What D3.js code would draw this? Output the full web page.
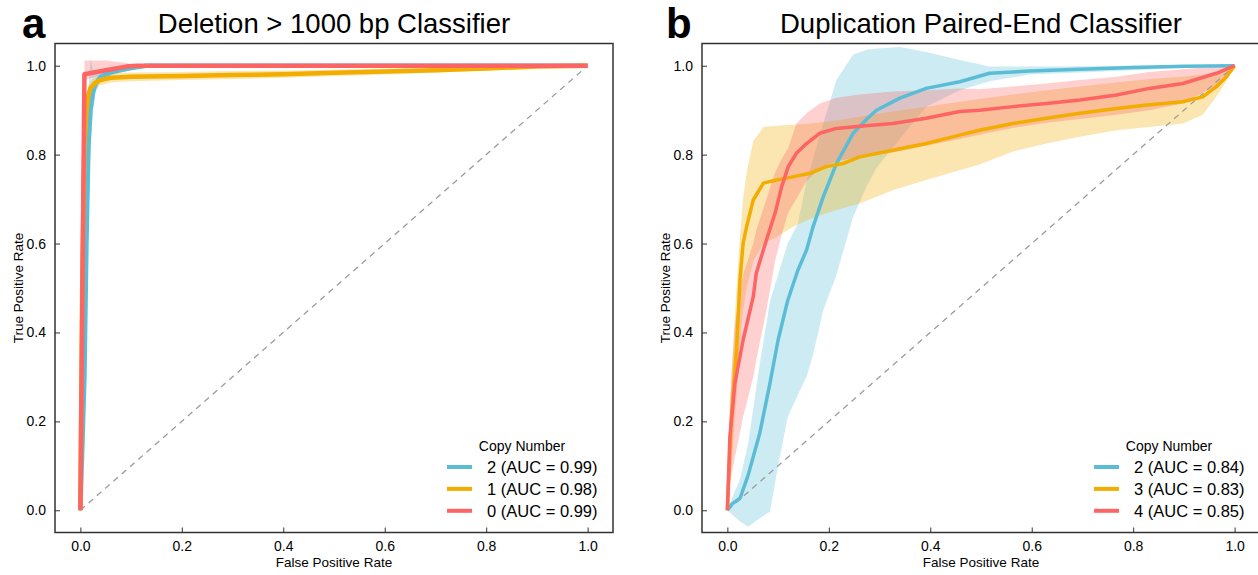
<!DOCTYPE html>
<html>
<head>
<meta charset="utf-8">
<script src="https://cdn.jsdelivr.net/npm/d3@7"></script>
<style>
body { margin: 0; background: #fff; }
text { font-family: "Liberation Sans", Arial, sans-serif; fill: #000; }
</style>
</head>
<body>
<svg id="svgroc" width="1258" height="575"></svg>
<script>
// ---- data: Deletion > 1000 bp (copy number 2, 1, 0)
var del2_fpr = [0, 0.008, 0.012, 0.016, 0.02, 0.025, 0.03, 0.04, 0.06, 0.08, 0.1, 0.13, 1];
var del2_tpr = [0, 0.3, 0.6, 0.82, 0.9, 0.94, 0.96, 0.975, 0.985, 0.99, 0.995, 1, 1];
var del2_lo  = [0, 0.15, 0.4, 0.7, 0.82, 0.9, 0.94, 0.965, 0.978, 0.985, 0.99, 1, 1];
var del2_hi  = [0, 0.45, 0.8, 0.95, 1.017, 0.99, 0.98, 0.985, 0.99, 0.995, 1, 1, 1];

var del1_fpr = [0, 0.004, 0.008, 0.012, 0.016, 0.02, 0.03, 0.04, 0.06, 0.1, 0.2, 0.3, 0.4, 0.5, 0.6, 0.7, 0.8, 0.9, 1];
var del1_tpr = [0, 0.55, 0.82, 0.9, 0.935, 0.95, 0.962, 0.968, 0.973, 0.975, 0.977, 0.979, 0.981, 0.984, 0.987, 0.99, 0.994, 0.998, 1];
var del1_lo  = [0, 0.45, 0.75, 0.86, 0.91, 0.93, 0.948, 0.956, 0.962, 0.965, 0.968, 0.97, 0.973, 0.977, 0.98, 0.985, 0.99, 0.995, 1];
var del1_hi  = [0, 0.65, 0.88, 0.93, 0.955, 0.965, 0.975, 0.98, 0.984, 0.985, 0.986, 0.988, 0.989, 0.991, 0.993, 0.995, 0.997, 0.999, 1];

var del0_fpr = [0, 0.008, 0.05, 0.09, 0.11, 1];
var del0_tpr = [0, 0.981, 0.99, 0.998, 1, 1];
var del0_lo  = [0, 0.968, 0.982, 0.994, 1, 1];
var del0_hi  = [0, 1.012, 1.012, 1.006, 1, 1];

// ---- data: Duplication paired-end (copy number 2, 3, 4)
var dup2_fpr = [0, 0.01, 0.025, 0.041, 0.064, 0.084, 0.1, 0.119, 0.139, 0.156, 0.169, 0.189, 0.215, 0.248, 0.275, 0.294, 0.34, 0.392, 0.458, 0.517, 0.596, 0.695, 0.8, 0.9, 1];
var dup2_tpr = [0, 0.015, 0.027, 0.079, 0.174, 0.286, 0.383, 0.472, 0.54, 0.585, 0.638, 0.705, 0.78, 0.848, 0.88, 0.9, 0.927, 0.949, 0.964, 0.983, 0.988, 0.992, 0.996, 0.999, 1];
var dup2_lo  = [0, -0.01, -0.025, -0.037, -0.018, -0.003, 0.1, 0.21, 0.26, 0.3, 0.35, 0.45, 0.53, 0.66, 0.73, 0.77, 0.835, 0.908, 0.945, 0.965, 0.98, 0.985, 0.99, 0.995, 1];
var dup2_hi  = [0, 0.03, 0.07, 0.15, 0.33, 0.47, 0.53, 0.6, 0.645, 0.74, 0.79, 0.87, 0.968, 1.025, 1.036, 1.039, 1.042, 1.031, 1.013, 0.998, 0.998, 0.999, 1, 1, 1];

var dup3_fpr = [0, 0.008, 0.018, 0.025, 0.031, 0.038, 0.051, 0.071, 0.097, 0.129, 0.163, 0.195, 0.228, 0.261, 0.326, 0.392, 0.458, 0.497, 0.563, 0.629, 0.695, 0.767, 0.832, 0.898, 0.937, 0.964, 0.984, 1];
var dup3_tpr = [0, 0.21, 0.36, 0.52, 0.6, 0.638, 0.698, 0.736, 0.743, 0.75, 0.758, 0.773, 0.78, 0.795, 0.81, 0.825, 0.844, 0.855, 0.87, 0.882, 0.893, 0.904, 0.912, 0.919, 0.93, 0.953, 0.975, 1];
var dup3_lo  = [0, 0.1, 0.25, 0.38, 0.45, 0.5, 0.56, 0.6, 0.615, 0.638, 0.655, 0.668, 0.68, 0.69, 0.72, 0.743, 0.765, 0.778, 0.807, 0.825, 0.84, 0.855, 0.862, 0.87, 0.89, 0.93, 0.965, 1];
var dup3_hi  = [0, 0.3, 0.5, 0.62, 0.7, 0.76, 0.83, 0.862, 0.865, 0.867, 0.87, 0.874, 0.879, 0.885, 0.897, 0.908, 0.919, 0.925, 0.935, 0.945, 0.953, 0.962, 0.97, 0.976, 0.98, 0.985, 0.99, 1];

var dup4_fpr = [0, 0.005, 0.015, 0.031, 0.051, 0.057, 0.077, 0.094, 0.107, 0.12, 0.136, 0.156, 0.182, 0.215, 0.261, 0.326, 0.392, 0.458, 0.497, 0.563, 0.629, 0.695, 0.767, 0.832, 0.898, 0.964, 1];
var dup4_tpr = [0, 0.166, 0.286, 0.383, 0.48, 0.533, 0.608, 0.668, 0.728, 0.773, 0.803, 0.825, 0.848, 0.859, 0.864, 0.87, 0.882, 0.897, 0.9, 0.908, 0.915, 0.923, 0.934, 0.949, 0.96, 0.983, 1];
var dup4_lo  = [0, 0.06, 0.12, 0.21, 0.3, 0.338, 0.45, 0.56, 0.62, 0.67, 0.7, 0.74, 0.77, 0.785, 0.795, 0.805, 0.82, 0.835, 0.845, 0.86, 0.872, 0.88, 0.89, 0.9, 0.915, 0.955, 1];
var dup4_hi  = [0, 0.25, 0.42, 0.53, 0.6, 0.63, 0.7, 0.76, 0.79, 0.815, 0.87, 0.893, 0.915, 0.928, 0.935, 0.942, 0.945, 0.949, 0.947, 0.953, 0.96, 0.968, 0.975, 0.986, 0.992, 0.998, 1];

var ticks = [0, 0.2, 0.4, 0.6, 0.8, 1.0];
var colors = ["#5bbcd6", "#f2ad00", "#fd6464"];
var delLabels = ["2 (AUC = 0.99)", "1 (AUC = 0.98)", "0 (AUC = 0.99)"];
var dupLabels = ["2 (AUC = 0.84)", "3 (AUC = 0.83)", "4 (AUC = 0.85)"];

function zipSeries(fpr, tpr, lo, hi) {
	return fpr.map(function(f, i) { return {fpr: f, tpr: tpr[i], lo: lo[i], hi: hi[i]}; });
}

var svg = d3.select("#svgroc");

function drawPanel(cfg) {
	var x = d3.scaleLinear().domain([-0.05, 1.05]).range([cfg.left, cfg.right]);
	var y = d3.scaleLinear().domain([-0.05, 1.05]).range([532.5, 43.5]);

	var g = svg.append("g");

	// confidence bands first, then the curves on top
	var area = d3.area()
	.x(function(d) { return x(d.fpr); })
	.y0(function(d) { return y(d.lo); })
	.y1(function(d) { return y(d.hi); });

	var line = d3.line()
	.x(function(d) { return x(d.fpr); })
	.y(function(d) { return y(d.tpr); });

	g.selectAll("path.band")
	.data(cfg.series)
	.enter()
	.append("path")
	.attr("class", "band")
	.attr("d", area)
	.attr("fill", function(d, i) { return colors[i]; })
	.attr("fill-opacity", 0.3);

	// chance diagonal
	g.append("line")
	.attr("x1", x(0)).attr("y1", y(0))
	.attr("x2", x(1)).attr("y2", y(1))
	.attr("stroke", "#999")
	.attr("stroke-width", 1.2)
	.attr("stroke-dasharray", "6,5");

	g.selectAll("path.curve")
	.data(cfg.series)
	.enter()
	.append("path")
	.attr("class", "curve")
	.attr("d", line)
	.attr("fill", "none")
	.attr("stroke", function(d, i) { return colors[i]; })
	.attr("stroke-width", cfg.lw)
	.attr("stroke-linejoin", "round");

	// axes, ticks pointing inward
	var xAxis = g.append("g")
	.attr("transform", "translate(0,532.5)")
	.call(d3.axisBottom(x).tickValues(ticks).tickFormat(d3.format(".1f")).tickSizeInner(-5).tickSizeOuter(0).tickPadding(9));
	var yAxis = g.append("g")
	.attr("transform", "translate(" + cfg.left + ",0)")
	.call(d3.axisLeft(y).tickValues(ticks).tickFormat(d3.format(".1f")).tickSizeInner(-5).tickSizeOuter(0).tickPadding(9));
	[xAxis, yAxis].forEach(function(a) {
		a.select(".domain").remove();
		a.selectAll("line").attr("stroke", "#333").attr("stroke-width", 1);
		a.selectAll("text").attr("font-size", "14px").attr("font-family", "Liberation Sans, Arial, sans-serif");
	});

	g.append("rect")
	.attr("x", cfg.left).attr("y", 43.5)
	.attr("width", cfg.right - cfg.left).attr("height", 532.5 - 43.5)
	.attr("fill", "none")
	.attr("stroke", "#333")
	.attr("stroke-width", 1.5);

	// titles & labels
	g.append("text")
	.attr("x", (cfg.left + cfg.right) / 2)
	.attr("y", 33)
	.attr("text-anchor", "middle")
	.attr("font-size", "27.5px")
	.text(cfg.title);

	g.append("text")
	.attr("x", cfg.tagX)
	.attr("y", 38)
	.attr("font-size", "42px")
	.attr("font-weight", "bold")
	.text(cfg.tag);

	g.append("text")
	.attr("x", (cfg.left + cfg.right) / 2)
	.attr("y", 567)
	.attr("text-anchor", "middle")
	.attr("font-size", "13.5px")
	.text("False Positive Rate");

	g.append("text")
	.attr("transform", "translate(" + (cfg.left - 32) + ",288) rotate(-90)")
	.attr("text-anchor", "middle")
	.attr("font-size", "13.5px")
	.text("True Positive Rate");

	// legend
	var legend = g.append("g")
	.attr("transform", "translate(" + cfg.legX + ",0)");

	legend.append("text")
	.attr("x", 75)
	.attr("y", 451)
	.attr("text-anchor", "middle")
	.attr("font-size", "14px")
	.text("Copy Number");

	var item = legend.selectAll("g.item")
	.data(cfg.labels)
	.enter()
	.append("g")
	.attr("class", "item")
	.attr("transform", function(d, i) { return "translate(0," + (467 + i * 21.9) + ")"; });

	item.append("line")
	.attr("x1", 0).attr("x2", 25)
	.attr("stroke", function(d, i) { return colors[i]; })
	.attr("stroke-width", 4);

	item.append("text")
	.attr("x", 40)
	.attr("y", 6)
	.attr("font-size", "16.5px")
	.text(function(d) { return d; });
}

drawPanel({
	left: 55, right: 613, lw: 4.5, tag: "a", tagX: 22, legX: 447,
	title: "Deletion > 1000 bp Classifier", labels: delLabels,
	series: [zipSeries(del2_fpr, del2_tpr, del2_lo, del2_hi),
	         zipSeries(del1_fpr, del1_tpr, del1_lo, del1_hi),
	         zipSeries(del0_fpr, del0_tpr, del0_lo, del0_hi)]
});

drawPanel({
	left: 702, right: 1260, lw: 3.5, tag: "b", tagX: 666, legX: 1094,
	title: "Duplication Paired-End Classifier", labels: dupLabels,
	series: [zipSeries(dup2_fpr, dup2_tpr, dup2_lo, dup2_hi),
	         zipSeries(dup3_fpr, dup3_tpr, dup3_lo, dup3_hi),
	         zipSeries(dup4_fpr, dup4_tpr, dup4_lo, dup4_hi)]
});
</script>
</body>
</html>
